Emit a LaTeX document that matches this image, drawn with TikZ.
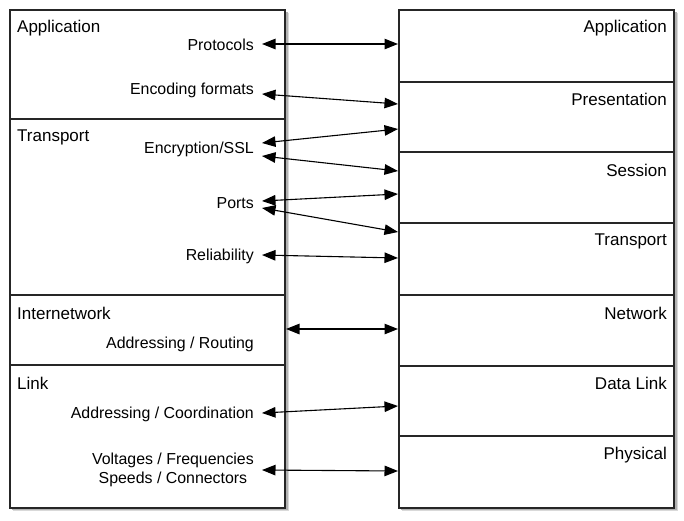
\documentclass[tikz,border=0pt]{standalone}
\usepackage{fontspec}
\setmainfont{Liberation Sans}
\usetikzlibrary{arrows.meta}
\begin{document}
\begin{tikzpicture}[x=1pt,y=-1pt,
  layer/.style={draw=black!85,line width=1.3pt,anchor=north west,inner sep=0pt,outer sep=0pt,minimum width=275pt,fill=white},
  ttl/.style={font=\fontsize{17}{19}\selectfont,inner sep=0pt},
  txt/.style={font=\fontsize{15.9}{18.5}\selectfont,inner sep=0pt},
  lt/.style={ttl,anchor=west},
  rt/.style={ttl,anchor=east},
  lab/.style={txt,anchor=east,align=center},
  conn/.style={{Triangle[length=13.5pt,width=10.5pt]}-{Triangle[length=13.5pt,width=10.5pt]},line width=1.1pt,black},
]
\useasboundingbox (0,0) rectangle (684,520);
% shadows
\fill[black!15] (13,13) rectangle (289,511);
\fill[black!30] (12,12) rectangle (287.5,509.5);
\fill[black!15] (402,13) rectangle (678,511);
\fill[black!30] (401,12) rectangle (676.5,509.5);
% left column
\node[layer,minimum height=109pt] (lapp) at (10,10) {};
\node[layer,minimum height=176pt] (ltra) at (10,119) {};
\node[layer,minimum height=70pt] (lint) at (10,295) {};
\node[layer,minimum height=143pt] (llnk) at (10,365) {};
% right column
\node[layer,minimum height=72pt] (rapp) at (399,10) {};
\node[layer,minimum height=70pt] (rpre) at (399,82) {};
\node[layer,minimum height=71pt] (rses) at (399,152) {};
\node[layer,minimum height=72pt] (rtra) at (399,223) {};
\node[layer,minimum height=71pt] (rnet) at (399,295) {};
\node[layer,minimum height=70pt] (rdl) at (399,366) {};
\node[layer,minimum height=72pt] (rphy) at (399,436) {};
% left titles
\node[lt] (tlapp) at (17,28) {Application};
\node[lt] (tltra) at (17,137) {Transport};
\node[lt] (tlint) at (17,313) {Internetwork};
\node[lt] (tllnk) at (17,383) {Link};
% right titles
\node[rt] (trapp) at (667,28) {Application};
\node[rt] (trpre) at (667,99) {Presentation};
\node[rt] (trses) at (667,170) {Session};
\node[rt] (trtra) at (667,241) {Transport};
\node[rt] (trnet) at (667,313) {Network};
\node[rt] (trdl) at (667,383) {Data Link};
\node[rt] (trphy) at (667,455) {Physical};
% labels
\node[lab] (proto) at (254,45) {Protocols};
\node[lab] (enc) at (254,90) {Encoding formats};
\node[lab] (ssl) at (254,149) {Encryption/SSL};
\node[lab] (ports) at (254,203) {Ports};
\node[lab] (rel) at (254,256) {Reliability};
\node[lab] (route) at (254,344) {Addressing / Routing};
\node[lab] (coord) at (254,414) {Addressing / Coordination};
\node[lab] (volt) at (254,470) {Voltages / Frequencies\\Speeds / Connectors};
% endpoints
\coordinate (a1) at (262,44);  \coordinate (b1) at (398,44);
\coordinate (a2) at (262,94);  \coordinate (b2) at (398,104);
\coordinate (a3) at (262,143); \coordinate (b3) at (398,129);
\coordinate (a4) at (262,156); \coordinate (b4) at (398,171);
\coordinate (a5) at (262,201); \coordinate (b5) at (398,194);
\coordinate (a6) at (262,208); \coordinate (b6) at (398,232);
\coordinate (a7) at (262,255); \coordinate (b7) at (398,258);
\coordinate (a8) at (286,329); \coordinate (b8) at (398,329);
\coordinate (a9) at (262,413); \coordinate (b9) at (398,406);
\coordinate (a10) at (262,470); \coordinate (b10) at (398,471);
\foreach \i in {1,...,10} \draw[conn] (a\i) -- (b\i);
\end{tikzpicture}
\end{document}
